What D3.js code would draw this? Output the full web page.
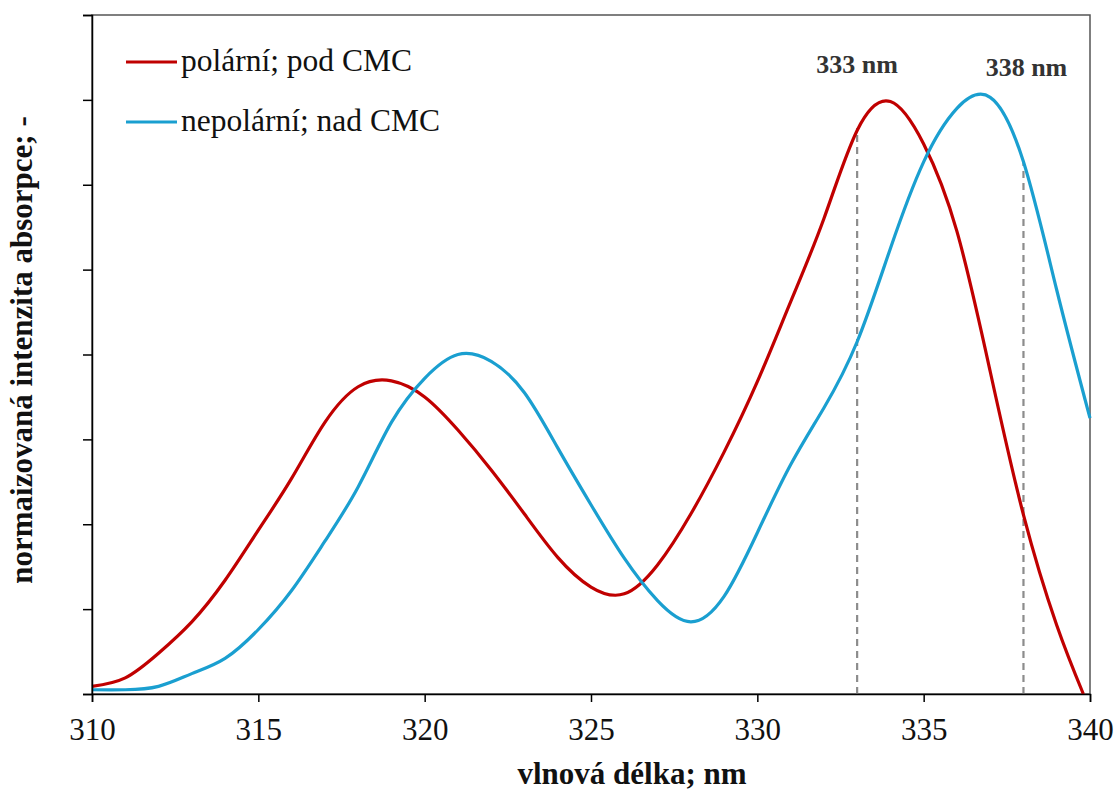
<!DOCTYPE html>
<html>
<head>
<meta charset="utf-8">
<script src="https://cdn.jsdelivr.net/npm/d3@7"></script>
<style>
  body { margin: 0; background: #fff; }
  text { font-family: 'Liberation Serif', 'Times New Roman', serif; }
</style>
</head>
<body>
<div id="chart"></div>
<script>
// wavelengths (nm) and normalised absorbance
let wavelengths = [310, 311, 312, 313, 314, 315, 316, 317, 318, 319, 320, 321, 322, 323, 324, 325,
  326, 327, 328, 329, 330, 331, 332, 333, 334, 335, 336, 337, 338, 339, 340]

let polarNm = wavelengths.slice(0, 30).concat([339.8])
let polarValues = [0.009, 0.019, 0.048, 0.085, 0.134, 0.193, 0.254, 0.32, 0.362, 0.369, 0.35,
  0.311, 0.264, 0.212, 0.161, 0.126, 0.118, 0.152, 0.212, 0.285, 0.368, 0.462, 0.56, 0.664,
  0.698, 0.648, 0.545, 0.38, 0.211, 0.081, 0]

let nonpolarValues = [0.005, 0.005, 0.009, 0.024, 0.042, 0.076, 0.122, 0.18, 0.244, 0.32, 0.372,
  0.4, 0.392, 0.355, 0.29, 0.223, 0.16, 0.11, 0.085, 0.115, 0.19, 0.27, 0.337, 0.415,
  0.525, 0.627, 0.69, 0.703, 0.627, 0.476, 0.325]

let seriesNames = ['polární; pod CMC', 'nepolární; nad CMC']
let markerNm = [333, 338]
let markerTop = [0.667, 0.627]
let markerLabels = ['333 nm', '338 nm']
let xTicks = [310, 315, 320, 325, 330, 335, 340]
let yTicks = [0, 0.1, 0.2, 0.3, 0.4, 0.5, 0.6, 0.7, 0.8]

let margin = { top: 15, left: 92, right: 28, bottom: 98 }
let width = 1118 - margin.left - margin.right
let height = 792 - margin.top - margin.bottom

let colors = ['#c00000', '#1a9fd0']

let svg = d3
  .select('#chart')
  .append('svg')
  .attr('width', 1118)
  .attr('height', 792)
  .append('g')
  .attr('transform', 'translate(' + margin.left + ',' + margin.top + ')')

let xScale = d3.scaleLinear().domain([310, 340]).range([0, width])
let yScale = d3.scaleLinear().domain([0, 0.8]).range([height, 0])

// frame
svg.append('rect')
  .attr('width', width)
  .attr('height', height)
  .attr('fill', 'none')
  .attr('stroke', '#555')
  .attr('stroke-width', 1.5)

// dashed markers
markerNm.forEach(function(nm, i) {
  svg.append('line')
    .attr('x1', xScale(nm))
    .attr('x2', xScale(nm))
    .attr('y1', yScale(0))
    .attr('y2', yScale(markerTop[i]))
    .attr('stroke', '#8c8c8c')
    .attr('stroke-width', 2.2)
    .attr('stroke-dasharray', '7,5')
})

let line = d3.line()
  .x(d => xScale(d[0]))
  .y(d => yScale(d[1]))
  .curve(d3.curveNatural)

let series = [
  d3.zip(polarNm, polarValues),
  d3.zip(wavelengths, nonpolarValues)
]

series.forEach(function(pts, i) {
  svg.append('path')
    .datum(pts)
    .attr('d', line)
    .attr('fill', 'none')
    .attr('stroke', colors[i])
    .attr('stroke-width', 3.2)
    .attr('stroke-linejoin', 'round')
})

// marker labels
svg.selectAll('.mlabel')
  .data(markerLabels)
  .enter()
  .append('text')
  .attr('class', 'mlabel')
  .attr('x', (d, i) => xScale(markerNm[i]) + (i === 0 ? 0 : 3))
  .attr('y', (d, i) => i === 0 ? 58 : 61)
  .attr('text-anchor', 'middle')
  .attr('font-weight', 'bold')
  .attr('font-size', 26)
  .attr('fill', '#333')
  .text(d => d)

// axes
let yAxis = d3.axisLeft(yScale).tickValues(yTicks).tickFormat('').tickSize(9)
svg.append('g')
  .attr('class', 'axis')
  .call(yAxis)

let xAxis = d3.axisBottom(xScale).tickValues(xTicks).tickFormat(d3.format('d')).tickSize(8).tickPadding(16)
svg.append('g')
  .attr('class', 'axis')
  .attr('transform', 'translate(0,' + height + ')')
  .call(xAxis)

svg.selectAll('.axis path, .axis line').attr('stroke', '#000').attr('stroke-width', 1.5)
svg.selectAll('.axis text')
  .attr('font-family', "'Liberation Serif', 'Times New Roman', serif")
  .attr('font-size', 31)
  .attr('fill', '#111')

// legend
let legend = svg.append('g')
seriesNames.forEach(function(name, i) {
  let y = 47 + i * 60
  legend.append('line')
    .attr('x1', 34).attr('x2', 85)
    .attr('y1', y).attr('y2', y)
    .attr('stroke', colors[i])
    .attr('stroke-width', 3.2)
  legend.append('text')
    .attr('x', 89)
    .attr('y', y + 9)
    .attr('font-size', 31.5)
    .attr('fill', '#111')
    .text(name)
})

// axis titles
svg.append('text')
  .attr('x', width / 2 + 41)
  .attr('y', height + 90)
  .attr('text-anchor', 'middle')
  .attr('font-weight', 'bold')
  .attr('font-size', 31)
  .attr('fill', '#111')
  .text('vlnová délka; nm')

svg.append('text')
  .attr('transform', 'translate(' + (32 - margin.left) + ',' + (350 - margin.top) + ') rotate(-90)')
  .attr('text-anchor', 'middle')
  .attr('font-weight', 'bold')
  .attr('font-size', 31)
  .attr('fill', '#111')
  .text('normaizovaná intenzita absorpce; -')
</script>
</body>
</html>
